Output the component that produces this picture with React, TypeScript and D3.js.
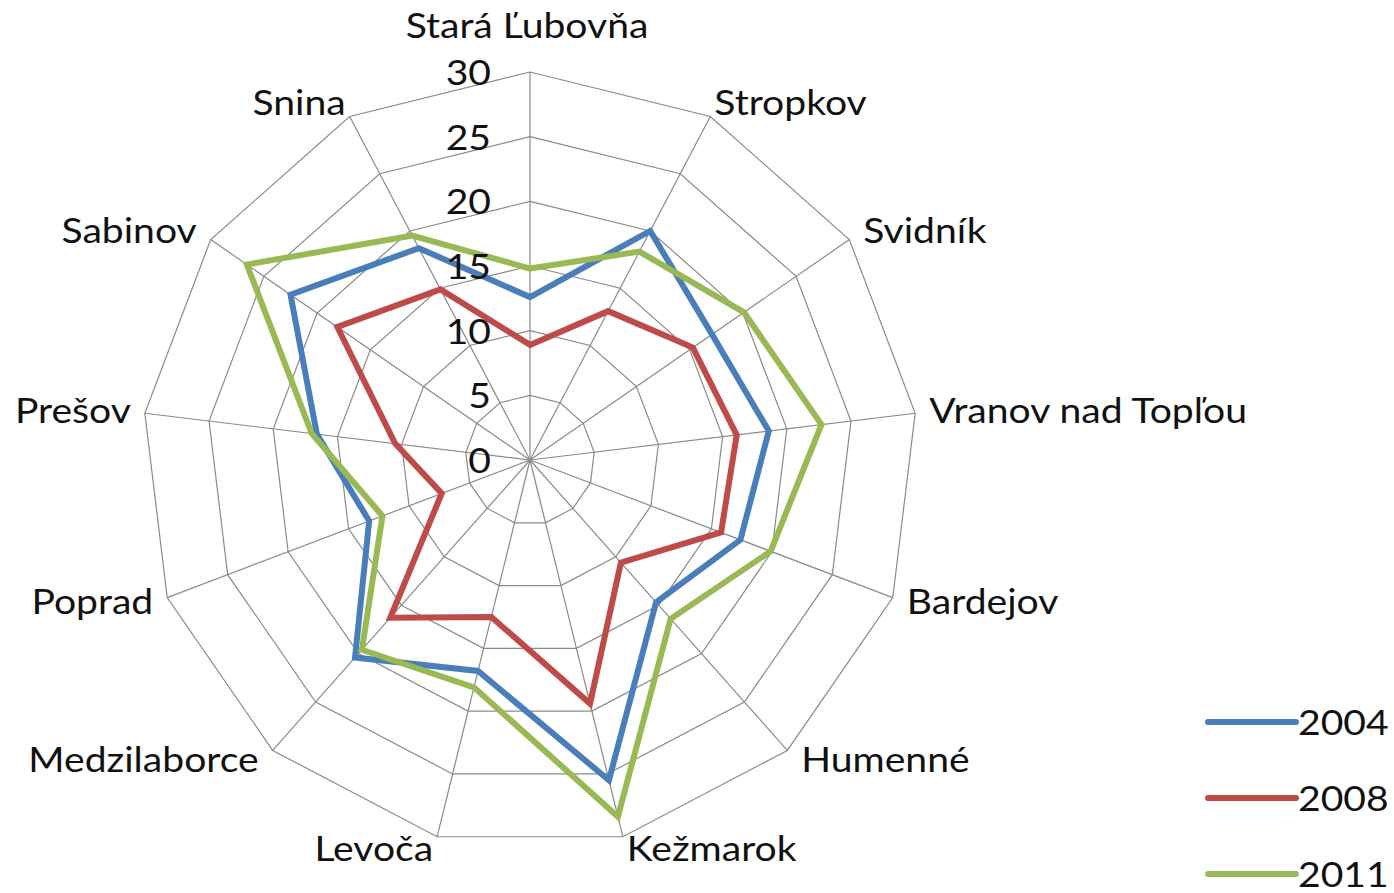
import React from 'react';
import * as d3 from 'd3';

const categories = [
  'Stará Ľubovňa', 'Stropkov', 'Svidník', 'Vranov nad Topľou', 'Bardejov', 'Humenné',
  'Kežmarok', 'Levoča', 'Medzilaborce', 'Poprad', 'Prešov', 'Sabinov', 'Snina',
];
const years = ['2004', '2008', '2011'];
const values2004 = [12.6, 20.0, 17.1, 18.6, 17.4, 14.7, 25.5, 16.8, 20.4, 13.3, 16.6, 22.5, 18.5];
const values2008 = [8.9, 13.0, 15.3, 16.1, 15.8, 10.6, 19.4, 12.5, 16.3, 7.3, 10.5, 18.1, 14.9];
const values2011 = [14.8, 18.2, 20.1, 22.7, 19.9, 16.4, 28.4, 18.1, 19.6, 12.2, 17.0, 26.6, 19.6];
const ticks = [0, 5, 10, 15, 20, 25, 30];
const colors = ['#4a7ebb', '#be4b48', '#98b954'];

const width = 1394;
const height = 893;
const cx = 530;
const cy = 460;
const font = 'Lato, "Open Sans", sans-serif';
const stretch = 1.15; // the source text is a bit wider than Lato

const Label = ({ x, y, anchor = 'start', children }: any) => (
  <text transform={`translate(${x},${y}) scale(${stretch},1)`} textAnchor={anchor}
    dominantBaseline="central" fontFamily={font} fontSize={34} fill="#111">{children}</text>
);

const App = () => {
  const r = d3.scaleLinear().domain([0, 30]).range([0, 388]);
  const angle = d3.scalePoint<number>()
    .domain(d3.range(categories.length))
    .range([0, 2 * Math.PI * (categories.length - 1) / categories.length]);

  const radial = d3.lineRadial<number>()
    .angle((_, i) => angle(i)!)
    .radius(d => r(d))
    .curve(d3.curveLinearClosed);

  const series = [values2004, values2008, values2011];
  const point = (i: number, v: number) => {
    const a = angle(i)!;
    return [r(v) * Math.sin(a), -r(v) * Math.cos(a)];
  };

  return (
    <svg width={width} height={height} style={{ position: 'absolute', left: 0, top: 0, background: '#fff' }}>
      <g transform={`translate(${cx},${cy})`}>
        {ticks.slice(1).map(t => (
          <path key={t} d={radial(categories.map(() => t))!} fill="none" stroke="#8a8a8a" strokeWidth={1.2} />
        ))}
        {categories.map((c, i) => {
          const [x, y] = point(i, 30);
          return <line key={c} x1={0} y1={0} x2={x} y2={y} stroke="#8a8a8a" strokeWidth={1.2} />;
        })}
        {series.map((s, k) => (
          <path key={years[k]} d={radial(s)!} fill="none" stroke={colors[k]} strokeWidth={6} strokeLinejoin="miter" />
        ))}
        {ticks.map(t => (
          <Label key={t} x={-39} y={-r(t)} anchor="end">{t}</Label>
        ))}
        {categories.map((c, i) => {
          const a = angle(i)!;
          const [x, y] = point(i, 30);
          const s = Math.sin(a);
          const anchor = Math.abs(s) < 0.1 ? 'middle' : s > 0 ? 'start' : 'end';
          const lx = anchor === 'middle' ? x - 3 : x + (s > 0 ? 1 : -1) * (Math.abs(s) > 0.5 ? 14 : 4);
          const ly = anchor === 'middle' ? y - 47 : y - 14 * Math.cos(a) - 2;
          return <Label key={c} x={lx} y={ly} anchor={anchor}>{c}</Label>;
        })}
      </g>
      {years.map((yr, k) => (
        <g key={yr} transform={`translate(1208,${722 + k * 76})`}>
          <line x1={0} x2={88} y1={0} y2={0} stroke={colors[k]} strokeWidth={6} strokeLinecap="round" />
          <Label x={90} y={0}>{yr}</Label>
        </g>
      ))}
    </svg>
  );
};

export default App;
